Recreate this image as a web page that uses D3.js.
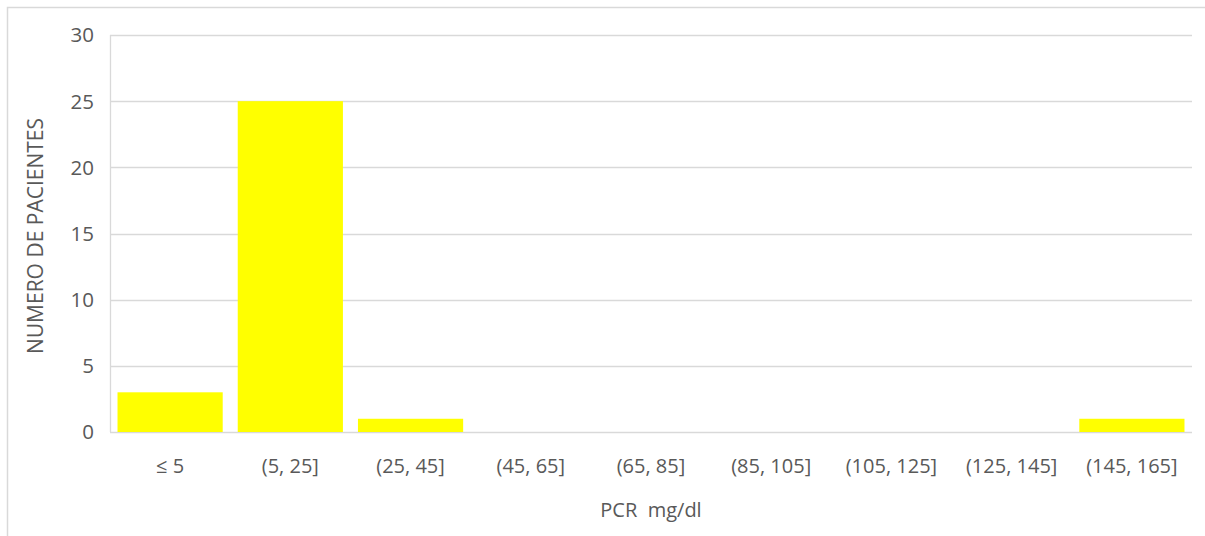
<!DOCTYPE html>
<html>
<head>
<meta charset="utf-8">
<script src="https://cdn.jsdelivr.net/npm/d3@7"></script>
<style>
  body { margin: 0; background: #fff; }
  text { font-family: "Open Sans", "Liberation Sans", sans-serif; fill: #595959; }
</style>
</head>
<body>
<svg id="chart" width="1205" height="536"></svg>
<script>
// data
var bins = ['≤ 5', '(5, 25]', '(25, 45]', '(45, 65]', '(65, 85]', '(85, 105]', '(105, 125]', '(125, 145]', '(145, 165]'];
var counts = [3, 25, 1, 0, 0, 0, 0, 0, 1];
var yTicks = [0, 5, 10, 15, 20, 25, 30];

var svg = d3.select('#chart');

var plotLeft = 110, plotRight = 1192, plotTop = 35, plotBottom = 432;

// chart frame
svg.append('rect')
  .attr('x', 7.5).attr('y', 7.5)
  .attr('width', 1205).attr('height', 540)
  .attr('fill', 'none')
  .attr('stroke', '#d9d9d9')
  .attr('stroke-width', 1.5);

var x = d3.scaleBand()
  .domain(bins)
  .range([plotLeft, plotRight])
  .paddingInner(0.125)
  .paddingOuter(0.0625);

var y = d3.scaleLinear()
  .domain([0, 30])
  .range([plotBottom, plotTop]);

// gridlines
svg.append('g')
  .selectAll('line')
  .data(yTicks)
  .join('line')
  .attr('x1', plotLeft).attr('x2', plotRight)
  .attr('y1', d => Math.round(y(d)) + 0.5)
  .attr('y2', d => Math.round(y(d)) + 0.5)
  .attr('stroke', '#d9d9d9')
  .attr('stroke-width', 1.3);

// left edge of plot
svg.append('line')
  .attr('x1', plotLeft + 0.5).attr('x2', plotLeft + 0.5)
  .attr('y1', plotTop).attr('y2', plotBottom)
  .attr('stroke', '#d9d9d9')
  .attr('stroke-width', 1.3);

// bars
svg.append('g')
  .selectAll('rect')
  .data(counts)
  .join('rect')
  .attr('x', (d, i) => x(bins[i]))
  .attr('width', x.bandwidth())
  .attr('y', d => y(d))
  .attr('height', d => plotBottom - y(d))
  .attr('fill', '#ffff00');

// y tick labels
svg.append('g')
  .selectAll('text')
  .data(yTicks)
  .join('text')
  .attr('x', 94)
  .attr('y', d => y(d))
  .attr('dy', '0.36em')
  .attr('text-anchor', 'end')
  .style('font-size', '20.5px')
  .text(d => d);

// x tick labels
svg.append('g')
  .selectAll('text')
  .data(bins)
  .join('text')
  .attr('x', d => x(d) + x.bandwidth() / 2)
  .attr('y', 473)
  .attr('text-anchor', 'middle')
  .style('font-size', '20px')
  .text(d => d);

// axis titles
svg.append('text')
  .attr('x', (plotLeft + plotRight) / 2)
  .attr('y', 517)
  .attr('text-anchor', 'middle')
  .style('font-size', '20px')
  .text('PCR\u00a0 mg/dl');

svg.append('text')
  .attr('transform', 'translate(43,236) rotate(-90)')
  .attr('text-anchor', 'middle')
  .style('font-size', '21px')
  .text('NUMERO DE PACIENTES');
</script>
</body>
</html>
